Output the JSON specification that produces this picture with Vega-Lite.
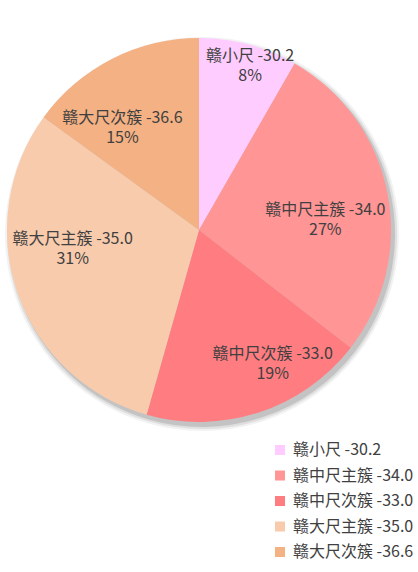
{
  "$schema": "https://vega.github.io/schema/vega-lite/v6.json",
  "autosize": {"type": "none"},
  "padding": {"left": 0, "top": 0, "right": 20, "bottom": 112},
  "width": 398,
  "height": 460,
  "background": "white",
  "config": {"view": {"stroke": null}, "font": "Noto Sans CJK SC"},
  "data": {
    "values": [
      {"i": 1, "name": "赣小尺 -30.2", "v": 8.3},
      {"i": 2, "name": "赣中尺主簇 -34.0", "v": 27.2},
      {"i": 3, "name": "赣中尺次簇 -33.0", "v": 18.9},
      {"i": 4, "name": "赣大尺主簇 -35.0", "v": 30.6},
      {"i": 5, "name": "赣大尺次簇 -36.6", "v": 15.0}
    ]
  },
  "transform": [
    {"joinaggregate": [{"op": "sum", "field": "v", "as": "total"}]},
    {"stack": "v", "groupby": [], "sort": [{"field": "i", "order": "ascending"}], "as": ["v0", "v1"]},
    {"calculate": "(datum.v0 + datum.v1) / 2", "as": "mid"},
    {"calculate": "[datum.name, format(datum.v / datum.total, '.0%')]", "as": "label"}
  ],
  "layer": [
    {
      "mark": {"type": "arc", "radius": 197, "color": "#000", "opacity": 0.05, "xOffset": 3, "yOffset": 4},
      "encoding": {"theta": {"field": "v1", "type": "quantitative"}, "theta2": {"field": "v0"}}
    },
    {
      "mark": {"type": "arc", "radius": 195, "color": "#000", "opacity": 0.08, "xOffset": 3, "yOffset": 4},
      "encoding": {"theta": {"field": "v1", "type": "quantitative"}, "theta2": {"field": "v0"}}
    },
    {
      "mark": {"type": "arc", "radius": 193, "color": "#000", "opacity": 0.12, "xOffset": 3, "yOffset": 4},
      "encoding": {"theta": {"field": "v1", "type": "quantitative"}, "theta2": {"field": "v0"}}
    },
    {
      "mark": {"type": "arc", "radius": 192},
      "encoding": {
        "theta": {"field": "v1", "type": "quantitative"},
        "theta2": {"field": "v0"},
        "color": {
          "field": "name",
          "type": "nominal",
          "scale": {
            "domain": ["赣小尺 -30.2", "赣中尺主簇 -34.0", "赣中尺次簇 -33.0", "赣大尺主簇 -35.0", "赣大尺次簇 -36.6"],
            "range": ["#FFCCFF", "#FF9595", "#FF7C80", "#F8CBAD", "#F4B183"]
          },
          "legend": {
            "orient": "none",
            "legendX": 272,
            "legendY": 442,
            "title": null,
            "symbolType": "square",
            "symbolSize": 100,
            "symbolStrokeWidth": 0,
            "labelFontSize": 16,
            "labelColor": "#404040",
            "labelOffset": 5,
            "labelLimit": 300,
            "rowPadding": 9.5
          }
        }
      }
    },
    {
      "transform": [{"filter": "datum.i == 1"}],
      "mark": {"type": "text", "radius": 140, "dx": 15, "dy": -38.5, "fontSize": 16, "lineHeight": 20, "fill": "#404040", "align": "center", "baseline": "middle"},
      "encoding": {"theta": {"field": "mid", "type": "quantitative"}, "text": {"field": "label"}}
    },
    {
      "transform": [{"filter": "datum.i == 2"}],
      "mark": {"type": "text", "radius": 140, "dx": -11, "dy": 7.5, "fontSize": 16, "lineHeight": 20, "fill": "#404040", "align": "center", "baseline": "middle"},
      "encoding": {"theta": {"field": "mid", "type": "quantitative"}, "text": {"field": "label"}}
    },
    {
      "transform": [{"filter": "datum.i == 3"}],
      "mark": {"type": "text", "radius": 140, "dx": 30, "dy": -9.5, "fontSize": 16, "lineHeight": 20, "fill": "#404040", "align": "center", "baseline": "middle"},
      "encoding": {"theta": {"field": "mid", "type": "quantitative"}, "text": {"field": "label"}}
    },
    {
      "transform": [{"filter": "datum.i == 4"}],
      "mark": {"type": "text", "radius": 140, "dx": 6, "dy": -36.5, "fontSize": 16, "lineHeight": 20, "fill": "#404040", "align": "center", "baseline": "middle"},
      "encoding": {"theta": {"field": "mid", "type": "quantitative"}, "text": {"field": "label"}}
    },
    {
      "transform": [{"filter": "datum.i == 5"}],
      "mark": {"type": "text", "radius": 140, "dx": -13, "dy": 12.5, "fontSize": 16, "lineHeight": 20, "fill": "#404040", "align": "center", "baseline": "middle"},
      "encoding": {"theta": {"field": "mid", "type": "quantitative"}, "text": {"field": "label"}}
    }
  ]
}
